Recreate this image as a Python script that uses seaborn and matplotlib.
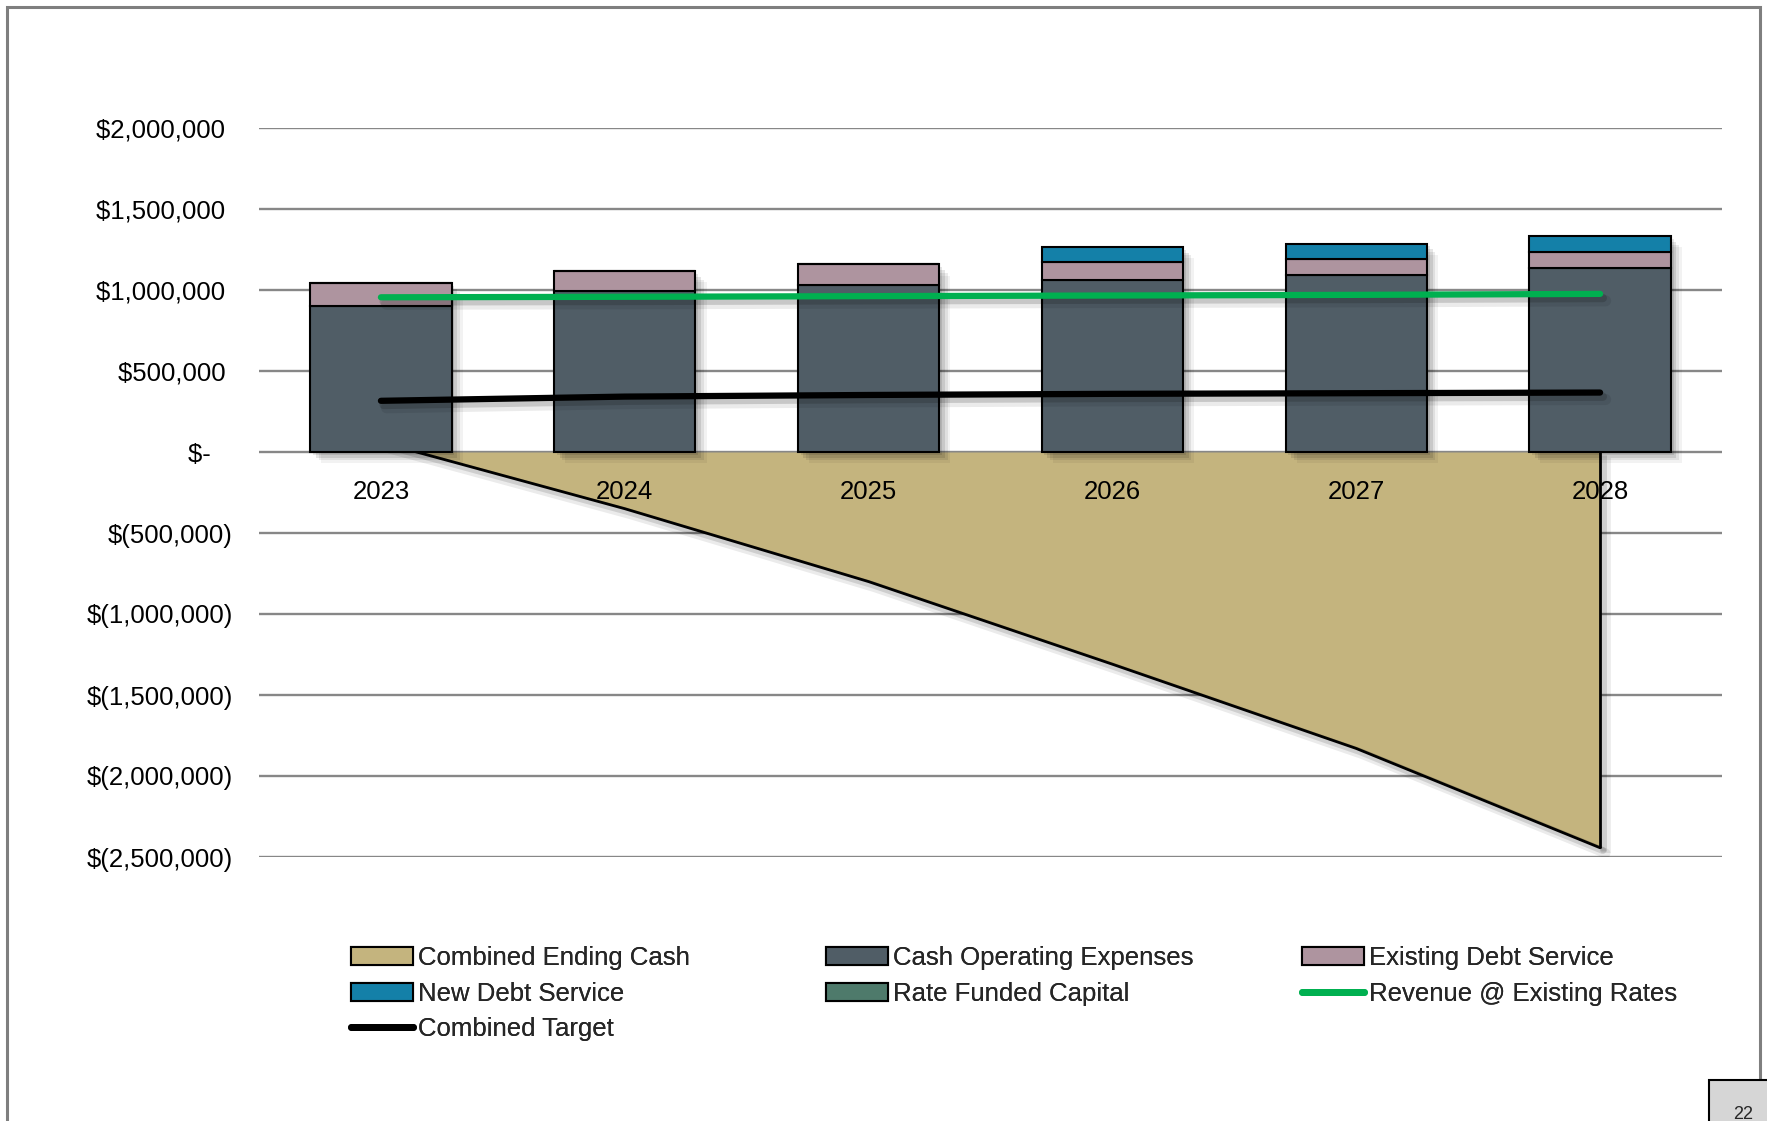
import numpy as np
import pandas as pd
import matplotlib
matplotlib.use("Agg")
import matplotlib.pyplot as plt
import seaborn as sns
from matplotlib import patheffects as pe
from matplotlib.patches import Patch, Rectangle
from matplotlib.lines import Line2D
from matplotlib.ticker import FuncFormatter, FixedLocator
from matplotlib import font_manager as fm

# ---------------- data ----------------
years = ["2023", "2024", "2025", "2026", "2027", "2028"]
cash_operating_expenses = [904000, 992000, 1032000, 1059000, 1094000, 1135000]
existing_debt_service = [138000, 124000, 126000, 113000, 95000, 97000]
new_debt_service = [0, 0, 0, 93000, 97000, 99000]
rate_funded_capital = [0, 0, 0, 0, 0, 0]
combined_ending_cash = [60000, -350000, -800000, -1310000, -1830000, -2443000]
revenue_existing_rates = [955000, 958000, 962000, 966000, 970000, 976000]
combined_target = [316000, 342000, 352000, 359000, 363000, 367000]

y_ticks = [-2500000, -2000000, -1500000, -1000000, -500000, 0, 500000, 1000000, 1500000, 2000000]

# ---------------- style ----------------
sns.set_style("white")
names = {f.name for f in fm.fontManager.ttflist}
if "Liberation Sans Narrow" in names:
    FONT = ["Liberation Sans Narrow", "DejaVu Sans"]
    FS = 22
else:
    FONT = ["Liberation Sans", "DejaVu Sans"]
    FS = 18.5
plt.rcParams["font.family"] = FONT

C_CASH = "#C4B47E"
C_COE = "#505D66"
C_EDS = "#AE949F"
C_NDS = "#1480A8"
C_RFC = "#4E7A6B"
C_REV = "#00B050"
C_TGT = "#000000"
C_GRID = "#878787"

W, H = 1767, 1121
fig = plt.figure(figsize=(W / 100, H / 100), dpi=100)
fig.patch.set_facecolor("white")
ax = fig.add_axes([259 / W, 1 - 857 / H, (1722 - 259) / W, (857 - 128) / H])

df = pd.DataFrame({
    "Year": years,
    "COE": cash_operating_expenses,
    "EDS": existing_debt_service,
    "NDS": new_debt_service,
})
df["Total"] = df["COE"] + df["EDS"] + df["NDS"]
pos = np.arange(len(years))

# area: combined ending cash
ax.fill_between(pos, combined_ending_cash, 0, color=C_CASH, lw=0, zorder=2)
shadow_line = [pe.SimpleLineShadow(offset=(2, -2), alpha=0.12, shadow_color="k", linewidth=5),
               pe.SimpleLineShadow(offset=(4, -4), alpha=0.08, shadow_color="k", linewidth=7),
               pe.Normal()]
ax.plot(pos, combined_ending_cash, color="black", lw=2, zorder=2.5, path_effects=shadow_line)
ax.vlines(pos[-1], combined_ending_cash[-1], 0, color="black", lw=2, zorder=2.5, path_effects=shadow_line)

BW = 0.58
soft_shadow = [pe.SimplePatchShadow(offset=(2, -2), shadow_rgbFace="k", alpha=0.10),
               pe.SimplePatchShadow(offset=(4, -4), shadow_rgbFace="k", alpha=0.10),
               pe.SimplePatchShadow(offset=(6, -6), shadow_rgbFace="k", alpha=0.08),
               pe.SimplePatchShadow(offset=(8, -8), shadow_rgbFace="k", alpha=0.05),
               pe.Normal()]
# shadow carrier for stacks
sns.barplot(data=df, x="Year", y="Total", color=C_COE, saturation=1, width=BW, errorbar=None,
            linewidth=0, ax=ax, zorder=3, path_effects=soft_shadow)
sns.barplot(data=df, x="Year", y="COE", color=C_COE, saturation=1, width=BW, errorbar=None,
            edgecolor="black", linewidth=1.5, ax=ax, zorder=4)
sns.barplot(data=df, x="Year", y="EDS", bottom=df["COE"].values, color=C_EDS, saturation=1, width=BW,
            errorbar=None, edgecolor="black", linewidth=1.5, ax=ax, zorder=4)
sns.barplot(data=df, x="Year", y="NDS", bottom=(df["COE"] + df["EDS"]).values, color=C_NDS, saturation=1,
            width=BW, errorbar=None, edgecolor="black", linewidth=1.5, ax=ax, zorder=4)

line_fx = [pe.SimpleLineShadow(offset=(2, -3), alpha=0.15, shadow_color="k", linewidth=6),
           pe.SimpleLineShadow(offset=(4, -5), alpha=0.08, shadow_color="k", linewidth=8),
           pe.Normal()]
sns.lineplot(x=pos, y=revenue_existing_rates, color=C_REV, linewidth=4.5, ax=ax, zorder=6,
             solid_capstyle="round", path_effects=line_fx)
sns.lineplot(x=pos, y=combined_target, color=C_TGT, linewidth=4.5, ax=ax, zorder=6,
             solid_capstyle="round", path_effects=line_fx)

# axes
ax.set_xlim(-0.5, len(years) - 0.5)
ax.set_ylim(-2500000, 2000000)
ax.yaxis.set_major_locator(FixedLocator(y_ticks))


def money(v, p):
    if abs(v) < 1:
        return "$-   "
    if v < 0:
        return "$({:,.0f})".format(-v)
    return "${:,.0f} ".format(v)


ax.yaxis.set_major_formatter(FuncFormatter(money))
ax.yaxis.grid(True, color=C_GRID, lw=1.7, zorder=0)
ax.xaxis.grid(False)
ax.set_axisbelow(True)
for s in ax.spines.values():
    s.set_visible(False)
ax.set_xticks(pos)
ax.set_xticklabels([])
ax.tick_params(axis="x", length=0)
ax.tick_params(axis="y", length=0, pad=19, labelsize=FS, labelcolor="black")
ax.set_xlabel("")
ax.set_ylabel("")

# category labels sit on the zero line, above the area fill
for p, yr in zip(pos, years):
    ax.annotate(yr, (p, 0), xytext=(0, -20), textcoords="offset points", ha="center", va="top",
                fontsize=FS, color="black", zorder=7, annotation_clip=False)

# legend (three columns laid out like the source)
def patch(c, label):
    return Patch(facecolor=c, edgecolor="black", linewidth=1.5, label=label)


def line(c, label):
    return Line2D([], [], color=c, lw=5, solid_capstyle="round", label=label)


cols = [
    ([patch(C_CASH, "Combined Ending Cash"), patch(C_NDS, "New Debt Service"), line(C_TGT, "Combined Target")], 351),
    ([patch(C_COE, "Cash Operating Expenses"), patch(C_RFC, "Rate Funded Capital")], 826),
    ([patch(C_EDS, "Existing Debt Service"), line(C_REV, "Revenue @ Existing Rates")], 1302),
]
for handles, xpx in cols:
    leg = fig.legend(handles=handles, loc="upper left", bbox_to_anchor=(xpx / W, 1 - 946 / H),
                     frameon=False, fontsize=FS, borderpad=0, borderaxespad=0,
                     handlelength=2.4, handleheight=0.7, handletextpad=0.2, labelspacing=0.45)
    fig.add_artist(leg)

# page frame and page-number box
fig.add_artist(Rectangle((7 / W, -0.05), (1760 - 7) / W, 1.05 - 7 / H, transform=fig.transFigure,
                         fill=False, edgecolor="#7f7f7f", lw=2.2, zorder=20))
fig.add_artist(Rectangle((1709 / W, -0.05), 0.1, 0.05 + (H - 1080) / H, transform=fig.transFigure,
                         facecolor="#d6d6d6", edgecolor="black", lw=1.5, zorder=21))
fig.text(1743 / W, 1 - 1106 / H, "22", ha="center", va="top", fontsize=13, zorder=22,
         family=["Liberation Sans", "DejaVu Sans"])

fig.savefig("out.png", dpi=100, facecolor="white")
